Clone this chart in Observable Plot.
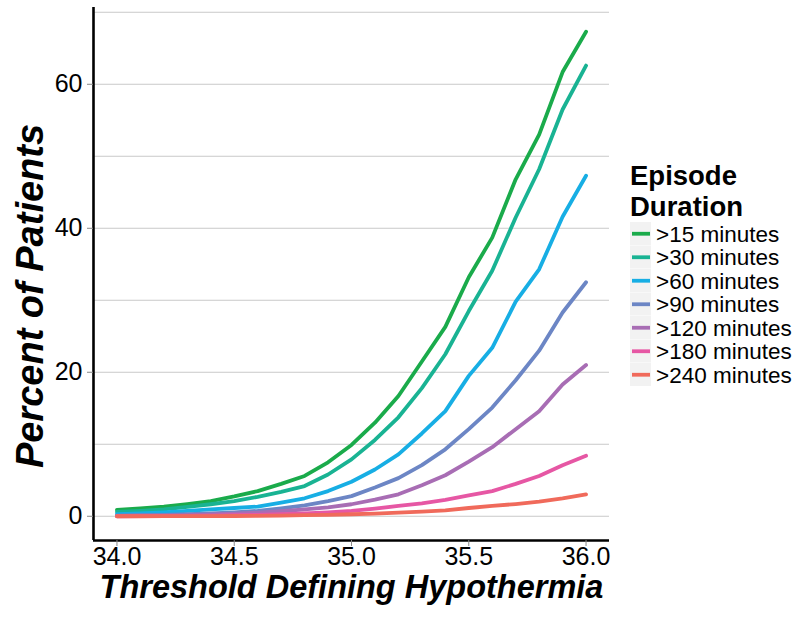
<!DOCTYPE html>
<html>
<head>
<meta charset="utf-8">
<script src="https://cdn.jsdelivr.net/npm/d3@7"></script>
<script src="https://cdn.jsdelivr.net/npm/@observablehq/plot@0.6"></script>
<style>
  html, body { margin: 0; padding: 0; background: #fff; }
  #chart { width: 800px; height: 622px; }
</style>
</head>
<body>
<div id="chart"></div>
<script>
// ---- data ----
const thresholds = [34.0, 34.1, 34.2, 34.3, 34.4, 34.5, 34.6, 34.7, 34.8, 34.9, 35.0,
                    35.1, 35.2, 35.3, 35.4, 35.5, 35.6, 35.7, 35.8, 35.9, 36.0];
const seriesNames = [">15 minutes", ">30 minutes", ">60 minutes", ">90 minutes",
                     ">120 minutes", ">180 minutes", ">240 minutes"];
const gt15  = [0.88, 1.1, 1.35, 1.7, 2.1, 2.75, 3.5, 4.5, 5.6, 7.5, 9.9, 13.0, 16.7, 21.5, 26.3, 33.2, 38.7, 46.8, 53.0, 61.7, 67.3];
const gt30  = [0.6, 0.75, 0.95, 1.3, 1.67, 2.1, 2.7, 3.4, 4.2, 5.8, 7.9, 10.6, 13.75, 17.8, 22.5, 28.5, 34.1, 41.5, 48.2, 56.5, 62.6];
const gt60  = [0.3, 0.4, 0.55, 0.75, 0.97, 1.15, 1.35, 1.9, 2.5, 3.5, 4.8, 6.5, 8.6, 11.5, 14.6, 19.5, 23.4, 29.8, 34.3, 41.6, 47.3];
const gt90  = [0.1, 0.15, 0.2, 0.3, 0.4, 0.55, 0.75, 1.1, 1.5, 2.1, 2.8, 4.0, 5.3, 7.1, 9.3, 12.1, 15.1, 18.9, 23.0, 28.3, 32.5];
const gt120 = [0.05, 0.07, 0.1, 0.15, 0.25, 0.35, 0.5, 0.7, 0.95, 1.25, 1.67, 2.3, 3.05, 4.3, 5.7, 7.6, 9.6, 12.1, 14.6, 18.3, 21.0];
const gt180 = [0, 0.02, 0.04, 0.06, 0.1, 0.15, 0.2, 0.3, 0.4, 0.55, 0.74, 1.05, 1.43, 1.8, 2.27, 2.9, 3.5, 4.5, 5.6, 7.1, 8.4];
const gt240 = [0, 0, 0.01, 0.02, 0.03, 0.04, 0.05, 0.1, 0.15, 0.2, 0.28, 0.38, 0.5, 0.65, 0.83, 1.15, 1.43, 1.7, 2.03, 2.5, 3.05];
const seriesColors = ["#1aab4b", "#19b393", "#17aee4", "#6c86c5", "#a86db4", "#e657a4", "#f06a5b"];
const xTicks = [34.0, 34.5, 35.0, 35.5, 36.0];
const yTicks = [0, 20, 40, 60];
const yGrid = [0, 10, 20, 30, 40, 50, 60, 70];
const xTitle = "Threshold Defining Hypothermia";
const yTitle = "Percent of Patients";
const legendTitle = ["Episode", "Duration"];

// ---- build table ----
const allSeries = [gt15, gt30, gt60, gt90, gt120, gt180, gt240];
const rows = [];
allSeries.forEach((vals, i) => {
  vals.forEach((v, j) => rows.push({series: seriesNames[i], threshold: thresholds[j], pct: v}));
});

// ggplot-style 5% expansion
const xExt = d3.extent(thresholds), yExt = d3.extent(rows, d => d.pct);
const xPad = (xExt[1] - xExt[0]) * 0.05, yPad = (yExt[1] - yExt[0]) * 0.05;
const xDomain = [xExt[0] - xPad, xExt[1] + xPad];
const yDomain = [yExt[0] - yPad, yExt[1] + yPad];

const font = "'Liberation Sans', Arial, Helvetica, sans-serif";

const plot = Plot.plot({
  width: 800,
  height: 622,
  marginLeft: 93,
  marginRight: 191,
  marginTop: 7,
  marginBottom: 82,
  style: {fontFamily: font, background: "#fff", color: "#000", overflow: "visible"},
  x: {domain: xDomain},
  y: {domain: yDomain},
  color: {domain: seriesNames, range: seriesColors},
  marks: [
    Plot.gridY(yGrid, {stroke: "#c9c9c9", strokeOpacity: 1, strokeWidth: 1.1}),
    Plot.line(rows, {x: "threshold", y: "pct", z: "series", stroke: "series", strokeWidth: 3.8, strokeLinejoin: "round"}),
    Plot.ruleX([xDomain[0]], {stroke: "#000", strokeWidth: 2.6}),
    Plot.ruleY([yDomain[0]], {stroke: "#000", strokeWidth: 2.6}),
    Plot.axisY(yTicks, {tickSize: 6, tickPadding: 5, stroke: "#888", fill: "#000", fontSize: 25, label: null}),
    Plot.axisX(xTicks, {tickSize: 6, tickPadding: 1, stroke: "#888", fill: "#000", fontSize: 25, label: null, tickFormat: d3.format(".1f")}),
    Plot.text([xTitle], {frameAnchor: "bottom", dy: 57, fontSize: 32.5, fontWeight: "bold", fontStyle: "italic", fill: "#000"}),
    Plot.text([yTitle], {frameAnchor: "left", textAnchor: "middle", rotate: -90, dx: -63, dy: 22, fontSize: 38, fontWeight: "bold", fontStyle: "italic", fill: "#000"})
  ]
});

// ---- legend (ggplot-style, to the right of the panel) ----
const svg = d3.select(plot);
const lg = svg.append("g").attr("transform", "translate(630,0)")
  .style("font-family", font).attr("text-anchor", "start");
lg.selectAll("text.title").data(legendTitle).join("text")
  .attr("class", "title")
  .attr("x", 0).attr("y", (d, i) => 185 + i * 31)
  .attr("text-anchor", "start")
  .attr("font-size", 27.5).attr("font-weight", "bold").attr("fill", "#000")
  .text(d => d);
const keyTop = 222, keyH = 23.5;
const keys = lg.selectAll("g.key").data(seriesNames).join("g")
  .attr("class", "key")
  .attr("transform", (d, i) => `translate(0,${keyTop + i * keyH})`);
keys.append("rect").attr("x", 0).attr("y", 0).attr("width", 21).attr("height", keyH - 0.5).attr("fill", "#f2f2f2");
keys.append("line").attr("x1", 2).attr("x2", 20).attr("y1", keyH / 2).attr("y2", keyH / 2)
  .attr("stroke", (d, i) => seriesColors[i]).attr("stroke-width", 3.8);
keys.append("text").attr("x", 26).attr("y", keyH / 2 + 8)
  .attr("text-anchor", "start")
  .attr("font-size", 22.5).attr("fill", "#000").text(d => d);

document.getElementById("chart").appendChild(plot);
</script>
</body>
</html>
